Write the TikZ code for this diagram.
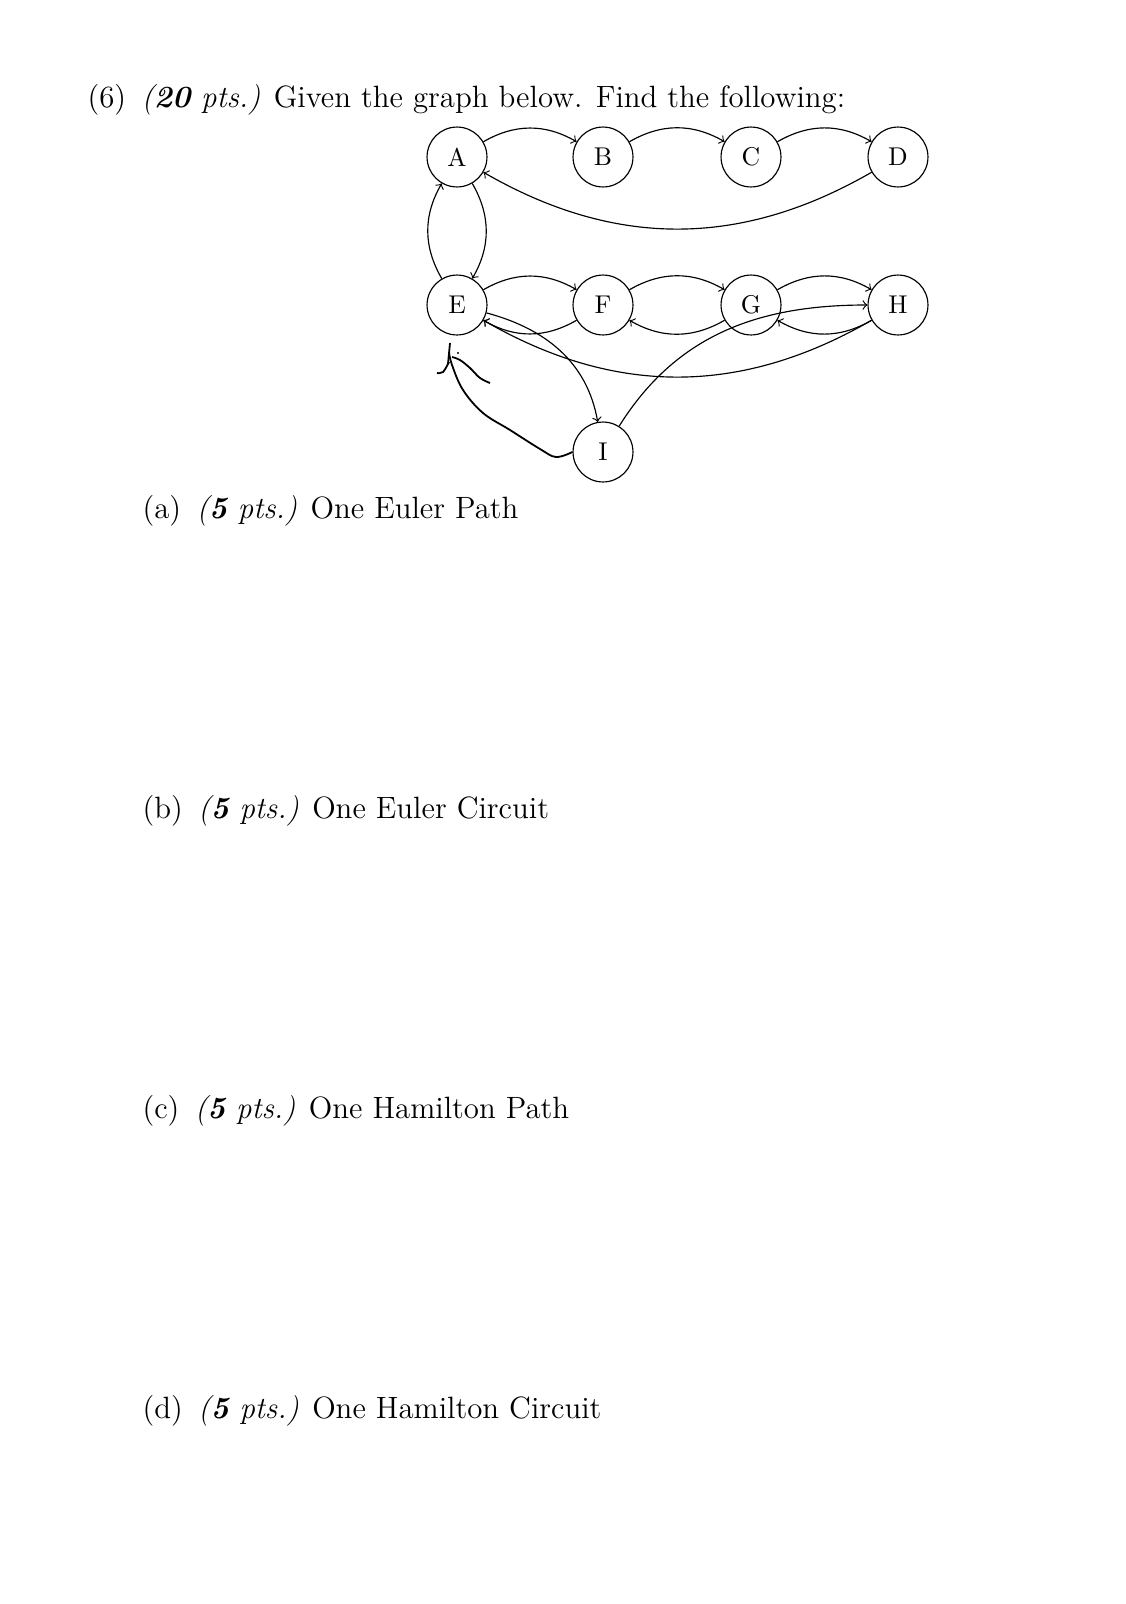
\documentclass[tikz,border=0pt]{standalone}
\usepackage{tikz}
\usetikzlibrary{positioning}

\tikzset{
  vertex/.style={draw,circle,minimum size=0.82cm,inner sep=0pt},
  question/.style={anchor=base west,inner sep=0pt,font=\fontsize{12}{14.5}\selectfont}
}

\begin{document}
\begin{tikzpicture}[x=0.01369cm,y=0.01369cm,>=to,line width=0.45pt]
  \useasboundingbox (0,0) rectangle (1125,-1604);

  % question text
  \node[question] (title) at (87,-107)
    {(6)\enspace\textit{(\textbf{20} pts.)} Given the graph below. Find the following:};
  \node[question] (qa) at (142,-518) {(a)\enspace\textit{(\textbf{5} pts.)} One Euler Path};
  \node[question] (qb) at (142,-818) {(b)\enspace\textit{(\textbf{5} pts.)} One Euler Circuit};
  \node[question] (qc) at (142,-1118) {(c)\enspace\textit{(\textbf{5} pts.)} One Hamilton Path};
  \node[question] (qd) at (142,-1418) {(d)\enspace\textit{(\textbf{5} pts.)} One Hamilton Circuit};

  % vertices
  \node[vertex] (A) at (457,-157) {A};
  \node[vertex] (B) at (603,-157) {B};
  \node[vertex] (C) at (751,-157) {C};
  \node[vertex] (D) at (898,-157) {D};
  \node[vertex] (E) at (457,-305) {E};
  \node[vertex] (F) at (603,-305) {F};
  \node[vertex] (G) at (751,-305) {G};
  \node[vertex] (H) at (898,-305) {H};
  \node[vertex] (I) at (603,-452) {I};

  % top row
  \draw[->] (A) to[bend left] (B);
  \draw[->] (B) to[bend left] (C);
  \draw[->] (C) to[bend left] (D);
  \draw[->] (D) to[bend left] (A);
  \draw[->] (A) to[bend left] (E);
  \draw[->] (E) to[bend left] (A);

  % bottom row
  \draw[->] (E) to[bend left] (F);
  \draw[->] (F) to[bend left] (E);
  \draw[->] (F) to[bend left] (G);
  \draw[->] (G) to[bend left] (F);
  \draw[->] (G) to[bend left] (H);
  \draw[->] (H) to[bend left] (G);
  \draw[->] (H) to[bend left] (E);
  \draw[->] (E) to[out=-15,in=100] (I);
  \draw[->] (I) to[out=58,in=180] (H);

  % hand-drawn mark
  \draw[line width=0.7pt] plot[smooth,tension=0.6] coordinates
    {(I.west) (556,-457) (540,-449) (510,-430) (483,-413) (463,-390) (452,-365) (449,-352)};
  \draw[line width=0.7pt] (450,-343) -- (448,-364);
  \draw[line width=0.7pt] plot[smooth,tension=0.6] coordinates
    {(437,-373) (443,-372) (449,-362)};
  \draw[line width=0.7pt] plot[smooth,tension=0.6] coordinates
    {(452,-357) (460,-360) (470,-368) (480,-378) (490,-383)};
  \fill (458,-353) circle (1.2);
\end{tikzpicture}
\end{document}
